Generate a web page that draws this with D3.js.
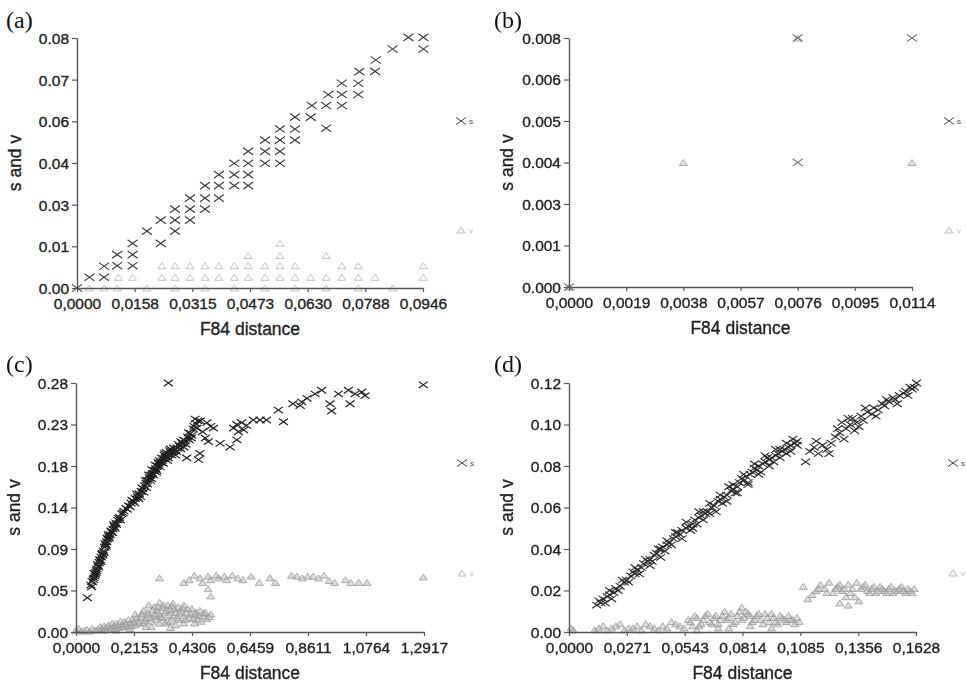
<!DOCTYPE html>
<html><head><meta charset="utf-8">
<script src="https://cdn.jsdelivr.net/npm/d3@7"></script>
<style>
html,body{margin:0;padding:0;background:#fff;}
svg{display:block;}
</style></head>
<body>
<svg id="chart" width="966" height="684"></svg>
<script>
// ---------- Tick labels ----------
const aXTicks = ["0,0000","0,0158","0,0315","0,0473","0,0630","0,0788","0,0946"];
const aYTicks = ["0.00","0.01","0.03","0.04","0.06","0.07","0.08"];
const bXTicks = ["0,0000","0,0019","0,0038","0,0057","0,0076","0,0095","0,0114"];
const bYTicks = ["0.000","0.001","0.003","0.004","0.005","0.006","0.008"];
const cXTicks = ["0,0000","0,2153","0,4306","0,6459","0,8611","1,0764","1,2917"];
const cYTicks = ["0.00","0.05","0.09","0.14","0.18","0.23","0.28"];
const dXTicks = ["0,0000","0,0271","0,0543","0,0814","0,1085","0,1356","0,1628"];
const dYTicks = ["0.00","0.02","0.04","0.06","0.08","0.10","0.12"];

// axis maxima (x, y)
const aMax = [0.0946, 0.084];
const bMax = [0.0114, 0.0076];
const cMax = [1.2917, 0.276];
const dMax = [0.1628, 0.12];

// ---------- Panel (a): s (transitions) and v (transversions) ----------
const aS = [[0,0],[0.0034,0.0036],[0.0074,0.0036],[0.0074,0.0073],[0.0110,0.0075],[0.0110,0.0112],
[0.0152,0.0075],[0.0152,0.0112],[0.0152,0.0150],[0.0191,0.0191],[0.0229,0.0228],[0.0229,0.0150],
[0.0268,0.0265],[0.0268,0.0228],[0.0268,0.0191],[0.0309,0.0302],[0.0309,0.0265],[0.0309,0.0228],
[0.0350,0.0344],[0.0350,0.0302],[0.0350,0.0265],[0.0388,0.0381],[0.0388,0.0344],[0.0388,0.0302],
[0.0430,0.0419],[0.0430,0.0381],[0.0430,0.0344],[0.0468,0.0459],[0.0468,0.0419],[0.0468,0.0381],
[0.0468,0.0344],[0.0514,0.0497],[0.0514,0.0459],[0.0514,0.0419],[0.0555,0.0534],[0.0555,0.0497],
[0.0555,0.0459],[0.0555,0.0419],[0.0596,0.0574],[0.0596,0.0534],[0.0596,0.0497],[0.0639,0.0574],
[0.0642,0.0613],[0.0681,0.0613],[0.0687,0.0650],[0.0681,0.0537],[0.0724,0.0613],[0.0724,0.0650],
[0.0724,0.0688],[0.0769,0.0650],[0.0769,0.0688],[0.0772,0.0727],[0.0815,0.0728],[0.0817,0.0766],
[0.0863,0.0803],[0.0906,0.0842],[0.0947,0.0842],[0.0947,0.0803]];
const aV = [[0.0232,0.0075],[0.0268,0.0075],[0.0309,0.0075],[0.0350,0.0075],[0.0388,0.0075],[0.0430,0.0075],
[0.0468,0.0075],[0.0514,0.0075],[0.0555,0.0075],[0.0596,0.0075],[0.0724,0.0075],[0.0769,0.0075],[0.0947,0.0075],
[0.0113,0.0036],[0.0152,0.0036],[0.0232,0.0036],[0.0268,0.0036],[0.0309,0.0036],[0.0350,0.0036],[0.0388,0.0036],
[0.0430,0.0036],[0.0468,0.0036],[0.0514,0.0036],[0.0555,0.0036],[0.0596,0.0036],[0.0639,0.0036],[0.0681,0.0036],
[0.0724,0.0036],[0.0769,0.0036],[0.0815,0.0036],[0.0947,0.0036],
[0.0468,0.0109],[0.0555,0.0109],[0.0681,0.0109],[0.0555,0.0150],
[0.0034,0],[0.0074,0],[0.0110,0],[0.0191,0],[0.0268,0],[0.0350,0],[0.0430,0],[0.0514,0],[0.0596,0],[0.0681,0],[0.0769,0],[0.0863,0]];

// ---------- Panel (b) ----------
const bS = [[0,0],[0.0076,0.0038],[0.0076,0.0076],[0.0114,0.0076]];
const bV = [[0,0],[0.0038,0.0038],[0.0076,0.0076],[0.0114,0.0038]];

// ---------- Panel (c) ----------
const cS = [[0.042,0.038],[0.055,0.052],[0.060,0.056],[0.066,0.060],[0.070,0.062],[0.074,0.066],[0.078,0.070],
[0.082,0.073],[0.086,0.077],[0.090,0.080],[0.094,0.083],[0.098,0.087],[0.102,0.090],[0.106,0.094],[0.110,0.097],
[0.114,0.100],[0.118,0.103],[0.122,0.106],[0.127,0.108],[0.132,0.111],[0.137,0.114],[0.142,0.117],[0.148,0.121],
[0.155,0.124],[0.162,0.127],[0.170,0.131],[0.178,0.134],[0.186,0.137],[0.195,0.140],[0.204,0.143],[0.212,0.145],
[0.220,0.148],[0.228,0.150],[0.235,0.153],[0.242,0.156],[0.248,0.159],[0.254,0.162],[0.260,0.165],[0.266,0.168],
[0.272,0.171],[0.278,0.174],[0.284,0.176],[0.290,0.179],[0.296,0.181],[0.302,0.184],[0.308,0.186],[0.314,0.188],
[0.320,0.190],[0.326,0.192],[0.332,0.194],[0.338,0.195],[0.345,0.197],[0.352,0.199],[0.360,0.200],[0.368,0.202],
[0.376,0.204],[0.385,0.206],[0.395,0.209],[0.405,0.212],[0.415,0.216],[0.425,0.220],[0.435,0.225],[0.445,0.231],
[0.452,0.234],[0.100,0.085],[0.120,0.108],[0.150,0.119],[0.200,0.139],[0.240,0.150],[0.265,0.164],[0.280,0.170],
[0.300,0.179],[0.310,0.190],[0.330,0.198],[0.340,0.190],[0.350,0.203],[0.370,0.196],[0.390,0.211],[0.400,0.205],
[0.420,0.213],[0.430,0.218],[0.411,0.193],[0.455,0.191],[0.460,0.198],[0.461,0.234],[0.486,0.232],[0.510,0.226],
[0.491,0.211],[0.470,0.222],[0.480,0.215],[0.500,0.228],[0.535,0.209],[0.572,0.205],[0.597,0.213],[0.603,0.222],
[0.585,0.226],[0.615,0.232],[0.622,0.224],[0.597,0.230],[0.633,0.229],[0.658,0.235],[0.683,0.235],[0.707,0.235],
[0.751,0.246],[0.770,0.233],[0.805,0.253],[0.832,0.251],[0.838,0.255],[0.857,0.259],[0.887,0.264],[0.912,0.268],
[0.943,0.253],[0.949,0.245],[0.974,0.264],[1.011,0.268],[1.017,0.253],[1.036,0.264],[1.061,0.266],[1.073,0.262],
[1.289,0.274],[0.343,0.276],
[0.058,0.050],[0.064,0.058],[0.068,0.065],[0.072,0.064],[0.076,0.068],[0.080,0.075],[0.084,0.072],[0.088,0.080],
[0.092,0.078],[0.096,0.086],[0.104,0.088],[0.108,0.098],[0.112,0.095],[0.116,0.104],[0.124,0.104],[0.130,0.112],
[0.135,0.110],[0.140,0.119],[0.145,0.115],[0.158,0.126],[0.165,0.124],[0.175,0.132],[0.190,0.136],[0.208,0.146],
[0.218,0.143],[0.226,0.153],[0.232,0.148],[0.245,0.160],[0.252,0.155],[0.258,0.168],[0.262,0.160],[0.270,0.174],
[0.276,0.168],[0.282,0.180],[0.288,0.174],[0.294,0.185],[0.298,0.177],[0.305,0.188],[0.312,0.183],[0.318,0.193],
[0.324,0.187],[0.328,0.196],[0.336,0.199],[0.342,0.193],[0.348,0.201],[0.356,0.196],[0.362,0.204],[0.372,0.200],
[0.380,0.208],[0.388,0.203],[0.398,0.213],[0.408,0.208],[0.418,0.221],[0.428,0.215],[0.438,0.228],[0.448,0.226],
[0.442,0.236]];
const cV = [[0.40,0.055],[0.42,0.058],[0.44,0.063],[0.46,0.060],[0.47,0.055],[0.49,0.062],[0.50,0.058],[0.52,0.063],
[0.53,0.060],[0.55,0.062],[0.56,0.058],[0.58,0.063],[0.60,0.060],[0.62,0.058],[0.65,0.062],[0.68,0.055],[0.72,0.060],
[0.74,0.055],[0.80,0.063],[0.82,0.062],[0.84,0.060],[0.86,0.062],[0.88,0.062],[0.90,0.060],[0.92,0.063],[0.94,0.057],
[0.96,0.055],[1.00,0.058],[1.02,0.055],[1.05,0.055],[1.08,0.055],[0.49,0.048],[0.50,0.040],[0.31,0.060],[1.289,0.061],
[0.00,0.002],[0.01,0.004],[0.03,0.002],[0.05,0.001],[0.06,0.004],[0.08,0.003],[0.09,0.006],[0.10,0.002],[0.11,0.005],
[0.12,0.008],[0.13,0.004],[0.14,0.007],[0.15,0.010],[0.16,0.005],[0.17,0.008],[0.18,0.012],[0.19,0.006],[0.20,0.010],
[0.21,0.014],[0.22,0.008],[0.23,0.012],[0.24,0.017],[0.25,0.010],[0.26,0.015],[0.27,0.020],[0.28,0.012],[0.29,0.018],
[0.30,0.024],[0.30,0.014],[0.31,0.020],[0.32,0.027],[0.32,0.016],[0.33,0.022],[0.34,0.030],[0.34,0.012],[0.35,0.025],
[0.36,0.018],[0.36,0.032],[0.37,0.022],[0.38,0.028],[0.38,0.014],[0.39,0.024],[0.40,0.018],[0.40,0.030],[0.41,0.022],
[0.42,0.016],[0.43,0.026],[0.44,0.020],[0.45,0.014],[0.46,0.024],[0.47,0.018],[0.48,0.022],[0.50,0.020],[0.27,0.030],
[0.29,0.028],[0.31,0.033],[0.25,0.024],[0.22,0.020],[0.33,0.010],[0.37,0.008],[0.40,0.010],[0.20,0.004],[0.26,0.006],
[0.15,0.002],[0.44,0.010],[0.35,0.005],
[0.02,0.001],[0.04,0.003],[0.07,0.002],[0.095,0.004],[0.105,0.007],[0.125,0.006],[0.135,0.010],[0.145,0.004],
[0.155,0.008],[0.165,0.012],[0.175,0.006],[0.185,0.009],[0.195,0.014],[0.205,0.007],[0.215,0.011],[0.225,0.016],
[0.235,0.010],[0.245,0.020],[0.255,0.013],[0.265,0.022],[0.275,0.016],[0.285,0.025],[0.295,0.020],[0.305,0.028],
[0.315,0.017],[0.325,0.030],[0.335,0.024],[0.345,0.019],[0.355,0.029],[0.365,0.026],[0.375,0.016],[0.385,0.021],
[0.395,0.027],[0.405,0.014],[0.415,0.026],[0.425,0.020],[0.435,0.015],[0.445,0.022],[0.455,0.018],[0.465,0.012],
[0.475,0.021],[0.485,0.015],[0.495,0.017],[0.31,0.010],[0.35,0.012],[0.28,0.006]];

// ---------- Panel (d) ----------
const dS = [[0.013,0.013],[0.015,0.014],[0.016,0.016],[0.018,0.017],[0.019,0.018],[0.021,0.019],[0.022,0.021],
[0.024,0.022],[0.026,0.024],[0.027,0.025],[0.029,0.027],[0.031,0.028],[0.032,0.030],[0.034,0.031],[0.035,0.033],
[0.037,0.034],[0.038,0.035],[0.040,0.037],[0.041,0.038],[0.043,0.040],[0.044,0.041],[0.046,0.042],[0.047,0.043],
[0.049,0.045],[0.050,0.046],[0.052,0.047],[0.053,0.049],[0.055,0.050],[0.056,0.051],[0.058,0.052],[0.059,0.054],
[0.061,0.055],[0.062,0.056],[0.064,0.057],[0.065,0.058],[0.067,0.060],[0.068,0.061],[0.070,0.063],[0.071,0.064],
[0.073,0.065],[0.074,0.066],[0.076,0.068],[0.077,0.069],[0.079,0.070],[0.080,0.072],[0.082,0.073],[0.083,0.075],
[0.085,0.076],[0.086,0.077],[0.088,0.078],[0.089,0.080],[0.091,0.081],[0.092,0.082],[0.094,0.083],[0.095,0.084],
[0.097,0.085],[0.098,0.086],[0.100,0.087],[0.101,0.088],[0.103,0.089],[0.104,0.090],[0.106,0.091],[0.107,0.092],
[0.020,0.016],[0.030,0.029],[0.039,0.034],[0.045,0.039],[0.051,0.048],[0.057,0.049],[0.060,0.052],[0.063,0.058],
[0.066,0.057],[0.072,0.062],[0.075,0.070],[0.078,0.067],[0.081,0.074],[0.084,0.072],[0.087,0.079],[0.090,0.077],
[0.093,0.084],[0.096,0.082],[0.099,0.088],[0.102,0.086],[0.105,0.093],
[0.111,0.082],[0.113,0.087],[0.115,0.089],[0.117,0.086],[0.119,0.090],[0.121,0.088],[0.123,0.091],[0.125,0.094],
[0.127,0.096],[0.128,0.101],[0.130,0.098],[0.132,0.100],[0.133,0.103],[0.135,0.101],[0.137,0.104],[0.138,0.102],
[0.140,0.106],[0.142,0.105],[0.143,0.108],[0.145,0.107],[0.147,0.110],[0.148,0.109],[0.150,0.111],[0.152,0.113],
[0.153,0.112],[0.155,0.114],[0.157,0.115],[0.158,0.116],[0.160,0.118],[0.161,0.117],[0.163,0.120],[0.134,0.097],
[0.129,0.093],
[0.014,0.015],[0.017,0.014],[0.019,0.020],[0.023,0.020],[0.025,0.025],[0.028,0.024],[0.031,0.031],[0.033,0.028],
[0.036,0.035],[0.038,0.032],[0.042,0.040],[0.043,0.036],[0.046,0.044],[0.048,0.042],[0.050,0.048],[0.053,0.045],
[0.055,0.053],[0.058,0.050],[0.061,0.058],[0.063,0.054],[0.066,0.062],[0.069,0.058],[0.071,0.066],[0.074,0.063],
[0.077,0.071],[0.079,0.067],[0.082,0.076],[0.084,0.071],[0.087,0.081],[0.089,0.076],[0.092,0.085],[0.094,0.080],
[0.097,0.088],[0.099,0.084],[0.102,0.091],[0.104,0.087],[0.107,0.090],[0.116,0.092],[0.122,0.086],[0.126,0.098],
[0.131,0.103],[0.136,0.099],[0.139,0.108],[0.144,0.104],[0.149,0.112],[0.154,0.110],[0.159,0.114],[0.162,0.118]];
const dV = [[0.001,0.002],[0.002,0.001],[0.012,0.001],[0.016,0.003],[0.020,0.002],[0.024,0.004],[0.028,0.002],
[0.032,0.003],[0.036,0.004],[0.040,0.002],[0.044,0.003],[0.048,0.005],[0.052,0.003],[0.056,0.006],[0.058,0.003],
[0.060,0.007],[0.062,0.004],[0.064,0.008],[0.066,0.005],[0.068,0.007],[0.070,0.004],[0.072,0.008],[0.074,0.006],
[0.076,0.009],[0.078,0.005],[0.080,0.010],[0.081,0.012],[0.082,0.007],[0.084,0.009],[0.086,0.005],[0.088,0.008],
[0.090,0.006],[0.092,0.009],[0.094,0.005],[0.096,0.007],[0.098,0.004],[0.100,0.007],[0.102,0.005],[0.104,0.006],
[0.106,0.004],[0.108,0.005],[0.070,0.002],[0.085,0.003],[0.095,0.002],[0.060,0.001],[0.075,0.002],
[0.110,0.022],[0.112,0.016],[0.116,0.020],[0.118,0.023],[0.120,0.021],[0.122,0.024],[0.124,0.019],[0.126,0.022],
[0.128,0.020],[0.130,0.017],[0.131,0.023],[0.133,0.021],[0.135,0.024],[0.136,0.015],[0.138,0.022],[0.140,0.020],
[0.142,0.021],[0.144,0.019],[0.146,0.022],[0.148,0.020],[0.150,0.021],[0.152,0.019],[0.154,0.020],[0.156,0.022],
[0.158,0.019],[0.160,0.020],[0.162,0.021],[0.134,0.017],
[0.014,0.002],[0.018,0.001],[0.022,0.003],[0.026,0.001],[0.030,0.002],[0.034,0.001],[0.038,0.003],[0.042,0.001],
[0.046,0.002],[0.050,0.004],[0.054,0.002],[0.057,0.005],[0.059,0.008],[0.061,0.003],[0.063,0.006],[0.065,0.009],
[0.067,0.004],[0.069,0.008],[0.071,0.006],[0.073,0.010],[0.075,0.007],[0.077,0.004],[0.079,0.008],[0.081,0.006],
[0.083,0.010],[0.085,0.008],[0.087,0.006],[0.089,0.009],[0.091,0.004],[0.093,0.007],[0.095,0.009],[0.097,0.005],
[0.099,0.008],[0.101,0.006],[0.103,0.008],[0.105,0.006],[0.107,0.007],
[0.114,0.018],[0.117,0.021],[0.121,0.019],[0.125,0.021],[0.127,0.023],[0.129,0.021],[0.132,0.019],[0.137,0.021],
[0.139,0.023],[0.141,0.019],[0.143,0.022],[0.145,0.020],[0.147,0.021],[0.149,0.019],[0.151,0.022],[0.153,0.020],
[0.155,0.021],[0.157,0.020],[0.159,0.021],[0.161,0.019],[0.127,0.014],[0.131,0.013]];

const panelLabels = ["(a)","(b)","(c)","(d)"];
const xTitle = "F84 distance";
const yTitle = "s and v";
const legendS = "s", legendV = "v";

// ---------- Layout ----------
const svg = d3.select("#chart");
const defs = svg.append("defs");
defs.append("filter").attr("id","soft").append("feGaussianBlur").attr("stdDeviation",0.45);

const layouts = [
  {lab:panelLabels[0], x0:77, x1:423, y0:288, y1:38, max:aMax, xt:aXTicks, yt:aYTicks, s:aS, v:aV, lg:[461,121,230], lx:6, ly:28, mk:[5,3.6], sc:"#3a3a3a", vc:"#b8b8b8", vf:"none", sw:1.1},
  {lab:panelLabels[1], x0:569, x1:912, y0:287, y1:38, max:bMax, xt:bXTicks, yt:bYTicks, s:bS, v:bV, lg:[949,121,230], lx:494, ly:28, mk:[5,3.6], sc:"#666", vc:"#999", vf:"#bbb", sw:1.1},
  {lab:panelLabels[2], x0:76, x1:424, y0:632, y1:383, max:cMax, xt:cXTicks, yt:cYTicks, s:cS, v:cV, lg:[462,463,573], lx:6, ly:372, mk:[4.5,3.2], sc:"#1e1e1e", vc:"#9a9a9a", vf:"#b0b0b0", sw:1.15},
  {lab:panelLabels[3], x0:569, x1:916, y0:632, y1:383, max:dMax, xt:dXTicks, yt:dYTicks, s:dS, v:dV, lg:[953,463,573], lx:494, ly:372, mk:[4.5,3.2], sc:"#2a2a2a", vc:"#9a9a9a", vf:"#b0b0b0", sw:1.1}
];

const xPath = (x,y,w,h)=>`M${x-w},${y-h}L${x+w},${y+h}M${x-w},${y+h}L${x+w},${y-h}`;
const triPath = (x,y,w,h)=>`M${x},${y-h}L${x+w},${y+h}L${x-w},${y+h}Z`;
const FONT = "Liberation Sans, Arial, sans-serif";

layouts.forEach(p=>{
  const g = svg.append("g");
  const xs = d3.scaleLinear().domain([0,p.max[0]]).range([p.x0,p.x1]);
  const ys = d3.scaleLinear().domain([0,p.max[1]]).range([p.y0,p.y1]);
  const xv = d3.range(7).map(i=>i*p.max[0]/6);
  const yv = d3.range(7).map(i=>i*p.max[1]/6);

  const marks = g.append("g").attr("filter","url(#soft)");
  // v points (behind)
  marks.append("g").selectAll("path").data(p.v).join("path")
    .attr("d",d=>triPath(xs(d[0]),ys(d[1]),4,3))
    .attr("fill",p.vf).attr("fill-opacity",0.5).attr("stroke",p.vc).attr("stroke-width",1).attr("opacity",0.85);
  // s points
  marks.append("g").selectAll("path").data(p.s).join("path")
    .attr("d",d=>xPath(xs(d[0]),ys(d[1]),p.mk[0],p.mk[1]))
    .attr("fill","none").attr("stroke",p.sc).attr("stroke-width",p.sw);

  // axes
  const xa = g.append("g").attr("transform",`translate(0,${p.y0})`)
    .call(d3.axisBottom(xs).tickValues(xv).tickFormat((d,i)=>p.xt[i]).tickSizeInner(4).tickSizeOuter(0).tickPadding(3));
  const ya = g.append("g").attr("transform",`translate(${p.x0},0)`)
    .call(d3.axisLeft(ys).tickValues(yv).tickFormat((d,i)=>p.yt[i]).tickSizeInner(5).tickSizeOuter(0).tickPadding(3));
  [xa,ya].forEach(a=>{
    a.select(".domain").attr("stroke","#555").attr("stroke-width",1.4);
    a.selectAll(".tick line").attr("stroke","#555").attr("stroke-width",1.2);
    a.selectAll("text").attr("fill","#222").attr("font-family",FONT).attr("font-size",15.5)
      .attr("stroke","#222").attr("stroke-width",0.35);
  });
  xa.selectAll("text").attr("dy","0.88em");
  ya.selectAll("text").attr("dy","0.35em");

  // titles
  g.append("text").attr("x",(p.x0+p.x1)/2).attr("y",p.y0+47).attr("text-anchor","middle")
    .attr("font-family",FONT).attr("font-size",17.5).attr("fill","#222")
    .attr("stroke","#222").attr("stroke-width",0.35).text(xTitle);
  g.append("text").attr("transform",`translate(${p.x0-56},${(p.y0+p.y1)/2}) rotate(-90)`).attr("text-anchor","middle")
    .attr("font-family",FONT).attr("font-size",17.5).attr("fill","#222")
    .attr("stroke","#222").attr("stroke-width",0.35).text(yTitle);
  g.append("text").attr("x",p.lx).attr("y",p.ly)
    .attr("font-family","Liberation Serif, Times New Roman, serif").attr("font-size",24).attr("fill","#111").text(p.lab);

  // legend
  g.append("path").attr("d",xPath(p.lg[0],p.lg[1],5,3.5)).attr("stroke","#444").attr("fill","none");
  g.append("text").attr("x",p.lg[0]+8).attr("y",p.lg[1]+3).attr("font-size",8)
    .attr("font-family",FONT).attr("fill","#444").text(legendS);
  g.append("path").attr("d",triPath(p.lg[0],p.lg[2],4,3)).attr("stroke","#bbb").attr("fill","none");
  g.append("text").attr("x",p.lg[0]+8).attr("y",p.lg[2]+3).attr("font-size",8)
    .attr("font-family",FONT).attr("fill","#bbb").text(legendV);
});
</script>
</body></html>
